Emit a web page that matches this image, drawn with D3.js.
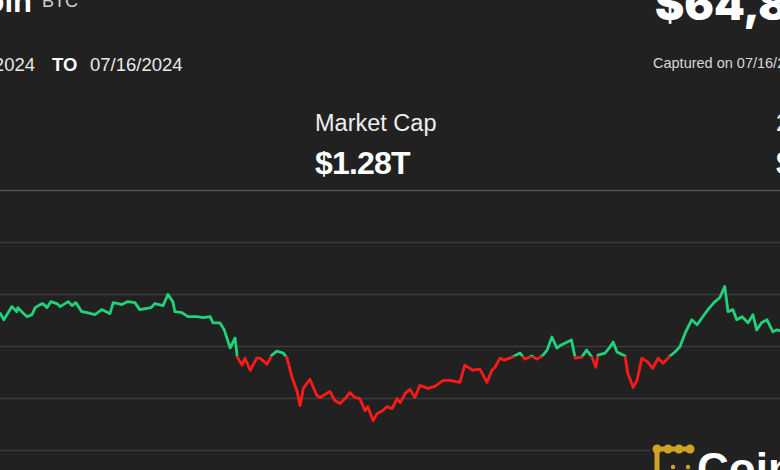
<!DOCTYPE html>
<html>
<head>
<meta charset="utf-8">
<script src="https://cdn.jsdelivr.net/npm/d3@7"></script>
<style>
  html, body { margin: 0; padding: 0; background: #212121; overflow: hidden; }
  svg { display: block; font-family: "Liberation Sans", Arial, sans-serif; }
</style>
</head>
<body>
<svg id="chart"></svg>
<script>
// BTC price, minutes after 07/15/2024 16:00 (visible part of the window only)
const minutes = [0, 7, 22, 31, 33, 42, 50, 59, 65, 74, 79, 87, 94, 105, 111, 126, 133, 140, 151, 161,
  175, 188, 196, 203, 209, 218, 225, 236, 249, 258, 279, 286, 301, 310, 319, 323, 336, 347, 364, 375,
  388, 393, 406, 414, 425, 434, 438, 447, 452, 462, 474, 480, 493, 502, 511, 523, 530, 539, 548, 554,
  560, 572, 585, 591, 603, 609, 618, 628, 637, 646, 655, 664, 674, 679, 689, 696, 707, 714, 724, 733,
  739, 748, 757, 766, 775, 790, 803, 818, 831, 849, 858, 873, 886, 899, 908, 914, 923, 931, 946, 960,
  969, 982, 991, 1001, 1010, 1019, 1028, 1036, 1055, 1062, 1074, 1083, 1093, 1100, 1104, 1117, 1126,
  1132, 1139, 1154, 1159, 1169, 1176, 1185, 1196, 1205, 1215, 1224, 1237, 1246, 1255, 1265, 1277,
  1287, 1296, 1307, 1318, 1329, 1338, 1344, 1353, 1360, 1370, 1381, 1390, 1397, 1406, 1416, 1427,
  1434, 1440];
const prices = [64820, 64752, 64879, 64830, 64869, 64820, 64782, 64801, 64869, 64898, 64908, 64869,
  64927, 64908, 64879, 64927, 64888, 64917, 64830, 64820, 64801, 64850, 64830, 64811, 64917, 64908,
  64898, 64927, 64917, 64850, 64869, 64908, 64888, 64995, 64927, 64830, 64820, 64782, 64782, 64772,
  64782, 64723, 64723, 64655, 64481, 64578, 64393, 64316, 64383, 64267, 64383, 64383, 64325, 64413,
  64451, 64432, 64383, 64199, 64073, 63927, 64092, 64180, 64024, 64005, 64044, 64063, 63976, 63947,
  63995, 64053, 64005, 63995, 63879, 63917, 63782, 63849, 63879, 63917, 63898, 63995, 63956, 64044,
  64083, 64005, 64121, 64092, 64112, 64170, 64170, 64150, 64316, 64267, 64277, 64150, 64267, 64296,
  64383, 64364, 64393, 64432, 64374, 64403, 64374, 64403, 64461, 64587, 64481, 64510, 64558, 64383,
  64393, 64461, 64393, 64296, 64413, 64432, 64490, 64539, 64442, 64403, 64238, 64102, 64170, 64383,
  64345, 64286, 64383, 64335, 64403, 64442, 64490, 64626, 64752, 64704, 64772, 64850, 64917, 64966,
  65073, 64830, 64850, 64752, 64782, 64723, 64801, 64655, 64723, 64752, 64636, 64655, 64646];
const openPrice = 64400;          // price at window start: green above, red below
const gridValues = [63500, 64000, 64500, 65000, 65500, 66000];

const W = 780, H = 470;
const svg = d3.select("#chart").attr("width", W).attr("height", H);

const x = d3.scaleLinear().domain([0, 1440]).range([0, 780]);
const y = d3.scaleLinear().domain([64000, 64500]).range([398, 346]);

const data = minutes.map((m, i) => ({ t: m, p: prices[i] }));

// header
svg.append("text").attr("x", 32).attr("y", 12).attr("text-anchor", "end")
  .attr("fill", "#fff").attr("font-size", 31).attr("font-weight", 700).text("Bitcoin");
svg.append("text").attr("x", 42).attr("y", 7)
  .attr("fill", "#d0d0d0").attr("font-size", 18).text("BTC");
svg.append("text").attr("x", 655).attr("y", 20)
  .attr("fill", "#fff").attr("font-size", 44).attr("font-weight", 900)
  .attr("font-family", "Inter, sans-serif").text("$64,861.73");

svg.append("text").attr("x", 35).attr("y", 71).attr("text-anchor", "end")
  .attr("fill", "#e8e8e8").attr("font-size", 18.5).text("07/15/2024");
svg.append("text").attr("x", 52).attr("y", 71).attr("fill", "#fff")
  .attr("font-size", 18.5).attr("font-weight", 700).text("TO");
svg.append("text").attr("x", 90).attr("y", 71).attr("fill", "#e8e8e8")
  .attr("font-size", 18.5).text("07/16/2024");
svg.append("text").attr("x", 653).attr("y", 68).attr("fill", "#d8d8d8")
  .attr("font-size", 14.5).text("Captured on 07/16/2024");

svg.append("text").attr("x", 315).attr("y", 131).attr("fill", "#eee")
  .attr("font-size", 23.5).text("Market Cap");
svg.append("text").attr("x", 315).attr("y", 174).attr("fill", "#fff")
  .attr("font-size", 32).attr("font-weight", 700).attr("letter-spacing", -0.8).text("$1.28T");
svg.append("text").attr("x", 776).attr("y", 131).attr("fill", "#eee")
  .attr("font-size", 23.5).text("24h Volume");
svg.append("text").attr("x", 776).attr("y", 174).attr("fill", "#fff")
  .attr("font-size", 32).attr("font-weight", 700).text("$30.1B");

// grid
svg.append("g").selectAll("line").data(gridValues).join("line")
  .attr("x1", 0).attr("x2", W)
  .attr("y1", d => Math.round(y(d)) + 0.5).attr("y2", d => Math.round(y(d)) + 0.5)
  .attr("stroke", (d, i) => i === gridValues.length - 1 ? "#555" : "#3c3c3c")
  .attr("stroke-width", 1.6);

// price line, split at the opening price
const yo = y(openPrice);
const defs = svg.append("defs");
defs.append("clipPath").attr("id", "above").append("rect")
  .attr("x", 0).attr("y", 0).attr("width", W).attr("height", yo);
defs.append("clipPath").attr("id", "below").append("rect")
  .attr("x", 0).attr("y", yo).attr("width", W).attr("height", H - yo);

const line = d3.line().x(d => x(d.t)).y(d => y(d.p));
[["above", "#22d27a"], ["below", "#ff1a1a"]].forEach(([id, c]) => {
  svg.append("path").datum(data)
    .attr("clip-path", `url(#${id})`)
    .attr("d", line)
    .attr("fill", "none")
    .attr("stroke", c)
    .attr("stroke-width", 2.8)
    .attr("stroke-linejoin", "round");
});

// logo
const logo = svg.append("g");
logo.append("rect").attr("x", 650).attr("y", 441).attr("width", 130).attr("height", 29).attr("fill", "#212121");
const gold = "#d0a322";
logo.append("path").attr("d", "M657,449 H690 M657,449 V470")
  .attr("stroke", gold).attr("stroke-width", 5).attr("fill", "none");
[[657, 449], [668, 449], [679, 449], [690, 449]].forEach(([cx, cy]) =>
  logo.append("circle").attr("cx", cx).attr("cy", cy).attr("r", 4.5).attr("fill", gold));
[[673, 467], [688, 467]].forEach(([cx, cy]) =>
  logo.append("circle").attr("cx", cx).attr("cy", cy).attr("r", 2.2).attr("fill", gold));
logo.append("text").attr("x", 697).attr("y", 484).attr("fill", "#fff")
  .attr("font-size", 44).attr("font-weight", 700).text("CoinDesk");
</script>
</body>
</html>
